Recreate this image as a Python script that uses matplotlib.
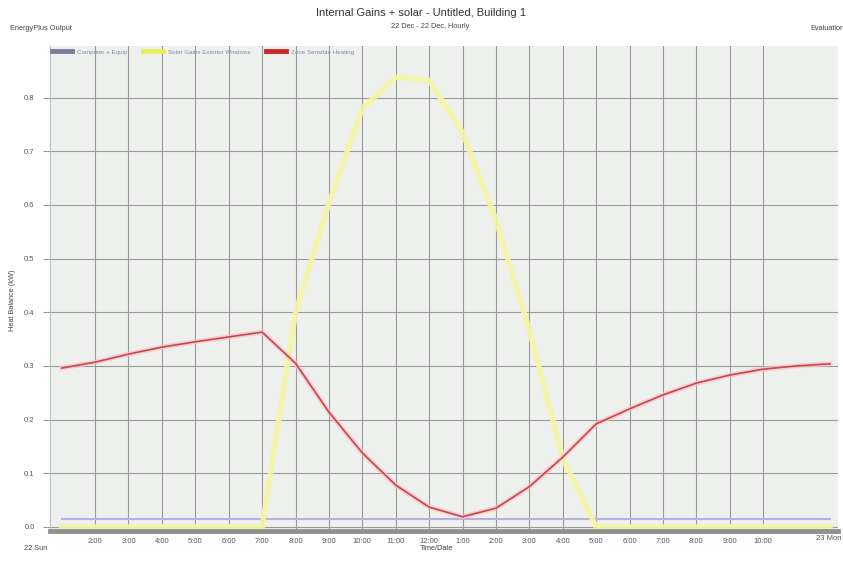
import matplotlib
matplotlib.use("Agg")
import matplotlib.pyplot as plt
from matplotlib.lines import Line2D

plt.rcParams['font.family'] = ['Liberation Sans', 'DejaVu Sans']

hours = list(range(1, 25))
computer_equip = [0.015] * 24
solar_gains = [0, 0, 0, 0, 0, 0, 0, 0.40, 0.603, 0.78, 0.838, 0.832,
               0.735, 0.572, 0.367, 0.128, 0, 0, 0, 0, 0, 0, 0, 0]
zone_heating = [0.296, 0.307, 0.322, 0.335, 0.345, 0.354, 0.363, 0.305,
                0.214, 0.138, 0.078, 0.037, 0.019, 0.035, 0.075, 0.130,
                0.192, 0.220, 0.246, 0.268, 0.283, 0.294, 0.300, 0.304]
series_names = ["Computer + Equip", "Solar Gains Exterior Windows", "Zone Sensible Heating"]
xtick_pos = list(range(2, 23))
xtick_labels = ["2:00", "3:00", "4:00", "5:00", "6:00", "7:00", "8:00", "9:00", "10:00",
                "11:00", "12:00", "1:00", "2:00", "3:00", "4:00", "5:00", "6:00", "7:00",
                "8:00", "9:00", "10:00"]
ytick_pos = [0.0, 0.1, 0.2, 0.3, 0.4, 0.5, 0.6, 0.7, 0.8]

fig = plt.figure(figsize=(8.43, 5.61), dpi=100)
ax = fig.add_axes([50/843, 1-531/561, (838-50)/843, (531-46)/561])
ax.set_facecolor('#eef0ee')
ax.set_xlim(0.65, 24.24)
ax.set_ylim(-0.0075, 0.896)

tc = '#555555'
ax.set_xticks(xtick_pos)
ax.set_xticklabels(xtick_labels, fontsize=5.5, color=tc)
ax.set_yticks(ytick_pos)
ax.set_yticklabels([f"{v:.1f}" for v in ytick_pos], fontsize=5.5, color=tc)
ax.tick_params(axis='x', length=0, pad=5)
ax.tick_params(axis='y', length=5, color='#999999', pad=6)
ax.grid(True, color='#9a9a9a', linewidth=0.8)
ax.set_axisbelow(True)
for s in ['top', 'right']:
    ax.spines[s].set_visible(False)
ax.spines['left'].set_color('#b8c0c0')
ax.spines['bottom'].set_color('#909090')
ax.spines['bottom'].set_linewidth(3.5)
ax.spines['bottom'].set_zorder(4)

# series
ax.plot(hours, computer_equip, color='#b8b0e0', linewidth=1.5, zorder=3)
ax.plot(hours, solar_gains, color='#f3f6a4', linewidth=4, alpha=0.9, zorder=3,
        solid_joinstyle='round')
ax.plot(hours, zone_heating, color='#f8c0c8', linewidth=3.5, alpha=0.7, zorder=5)
ax.plot(hours, zone_heating, color='#c84848', linewidth=1.2, zorder=6)

handles = [Line2D([0], [0], color='#7c7ca0', lw=3.5),
           Line2D([0], [0], color='#e8ec60', lw=3.5),
           Line2D([0], [0], color='#c82828', lw=3.5)]
leg = ax.legend(handles, series_names, loc='upper left', ncol=3, frameon=False,
                fontsize=4.5, bbox_to_anchor=(-0.005, 1.005), handlelength=3.2,
                columnspacing=2.5, handletextpad=0.8)
for t in leg.get_texts():
    t.set_color('#8888a8')

fig.text(421/843, 1-13/561, "Internal Gains + solar - Untitled, Building 1",
         ha='center', va='center', fontsize=8, color='#333333')
fig.text(430/843, 1-26/561, "22 Dec - 22 Dec, Hourly", ha='center', va='center',
         fontsize=5.3, color='#444444')
fig.text(10/843, 1-28/561, "EnergyPlus Output", ha='left', va='center',
         fontsize=5.3, color='#444444')
fig.text(810/843, 1-28/561, "Evaluation", ha='left', va='center',
         fontsize=5.3, color='#444444')
fig.text(13/843, 1-300/561, "Heat Balance (kW)", rotation=90, ha='center',
         va='center', fontsize=5.3, color='#444444')
fig.text(437/843, 1-549/561, "Time/Date", ha='center', va='center',
         fontsize=5.3, color='#444444')
fig.text(36/843, 1-549/561, "22 Sun", ha='center', va='center',
         fontsize=5.3, color='#444444')
fig.text(829/843, 1-538/561, "23 Mon", ha='center', va='center',
         fontsize=5.5, color=tc)

fig.savefig("out.png", dpi=100)
